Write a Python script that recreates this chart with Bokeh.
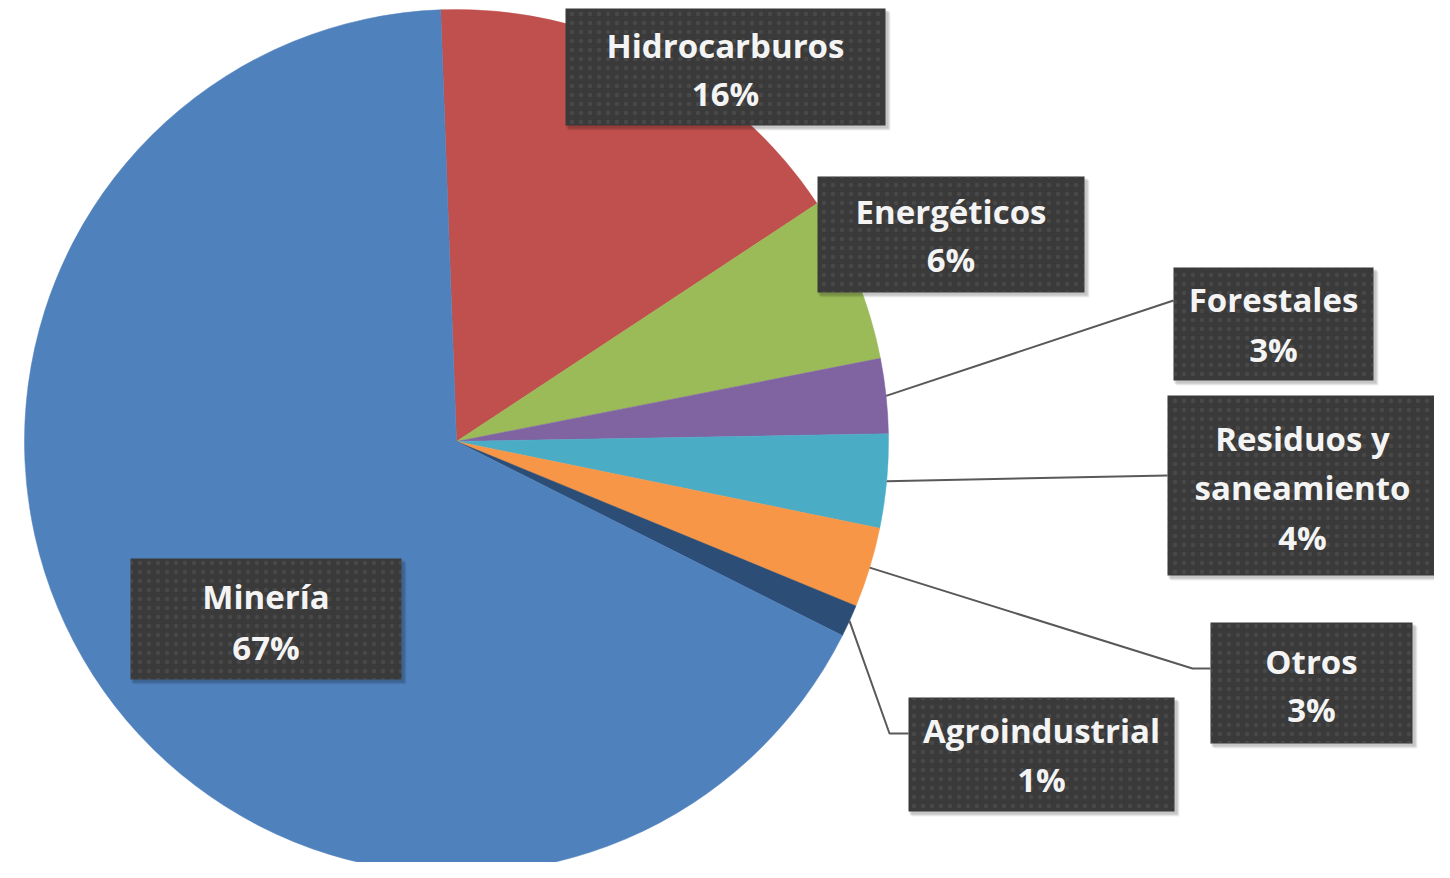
import math
from bokeh.plotting import figure
from bokeh.models import Range1d
from bokeh.core.properties import value
from bokeh.embed import file_html
from bokeh.resources import INLINE

# ---- data ----
categories = ["Hidrocarburos", "Energéticos", "Forestales", "Residuos y saneamiento",
              "Otros", "Agroindustrial", "Minería"]
shares = [16.3, 6.2, 2.8, 3.5, 3.0, 1.2, 67.0]
pct_labels = ["16%", "6%", "3%", "4%", "3%", "1%", "67%"]
colors = ["#C0504D", "#9BBB59", "#8064A2", "#4BACC6", "#F79646", "#2C4D75", "#4F81BD"]

# ---- layout (reference pixel coordinates, y downwards) ----
W, H = 1434, 862
CX, CY, R = 456, 441, 432
START_DEG = -2.1  # clockwise from 12 o'clock

def Y(py):
    return H - py

p = figure(width=W, height=H, output_backend="svg", toolbar_location=None,
           x_range=Range1d(0, W), y_range=Range1d(0, H),
           min_border=0, border_fill_color="white", background_fill_color="white")
p.axis.visible = False
p.grid.visible = False
p.outline_line_color = None

total = sum(shares)
starts, ends, mids = [], [], []
cum = START_DEG
for s in shares:
    a0 = cum
    a1 = cum + 360.0 * s / total
    starts.append(math.radians(90 - a0))
    ends.append(math.radians(90 - a1))
    mids.append((a0 + a1) / 2)
    cum = a1

p.wedge(x=[CX] * len(shares), y=[Y(CY)] * len(shares), radius=R,
        start_angle=starts, end_angle=ends, direction="clock",
        fill_color=colors, line_color=colors, line_width=0.5)

def edge_point(deg):
    t = math.radians(deg)
    return CX + R * math.sin(t), CY - R * math.cos(t)

# label boxes: (left, right, top, bottom), line centres
boxes = {
    "Hidrocarburos": ((565, 885, 8, 125), [("Hidrocarburos", 45), ("16%", 93)]),
    "Energéticos": ((817, 1084, 176, 292), [("Energéticos", 211), ("6%", 259)]),
    "Forestales": ((1173, 1373, 267, 380), [("Forestales", 299), ("3%", 349)]),
    "Residuos y saneamiento": ((1167, 1437, 395, 575),
                               [("Residuos y", 438), ("saneamiento", 487), ("4%", 537)]),
    "Otros": ((1210, 1412, 622, 743), [("Otros", 661), ("3%", 709)]),
    "Agroindustrial": ((908, 1174, 697, 811), [("Agroindustrial", 730), ("1%", 779)]),
    "Minería": ((130, 401, 558, 679), [("Minería", 596), ("67%", 647)]),
}
for i, c in enumerate(categories):
    lines = boxes[c][1]
    lines[-1] = (pct_labels[i], lines[-1][1])

leaders = {
    "Forestales": [(1173, 300)],
    "Residuos y saneamiento": [(1167, 475)],
    "Otros": [(1192, 668), (1210, 668)],
    "Agroindustrial": [(889, 733), (908, 733)],
}
for i, c in enumerate(categories):
    if c in leaders:
        sx, sy = edge_point(mids[i])
        pts = [(sx, sy)] + leaders[c]
        p.line([q[0] for q in pts], [Y(q[1]) for q in pts],
               line_color="#595959", line_width=2)

# soft shadows
for c, (bx, lines) in boxes.items():
    l, r, t, b = bx
    for k, a in ((5, 0.06), (4, 0.08), (3, 0.10)):
        p.quad(left=l + k - 2, right=r + k, top=Y(t + k - 1), bottom=Y(b + k),
               fill_color="black", fill_alpha=a, line_color=None)
# boxes
for c, (bx, lines) in boxes.items():
    l, r, t, b = bx
    p.quad(left=l, right=r, top=Y(t), bottom=Y(b),
           fill_color="#3a3a3a", line_color=None,
           hatch_pattern="dot", hatch_color="#6a6a6a", hatch_scale=9, hatch_weight=1,
           hatch_alpha=0.3)
    xs = [(l + r) / 2] * len(lines)
    ys = [Y(v) for _, v in lines]
    p.text(x=xs, y=ys, text=[s for s, _ in lines],
           text_font=value("Open Sans"), text_font_style="bold", text_font_size="33px",
           text_color="#f4f4f4", text_align="center", text_baseline="middle")

open("out.html", "w").write(file_html(p, INLINE))
